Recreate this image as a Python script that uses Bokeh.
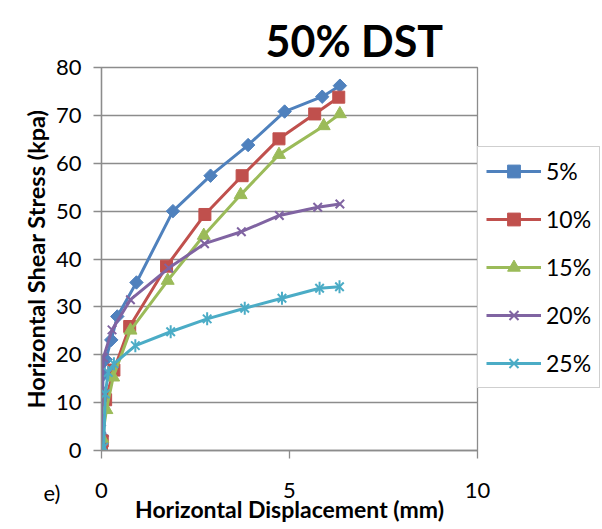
import math
from bokeh.plotting import figure
from bokeh.models import Range1d, Legend, LegendItem, Label, FixedTicker
from bokeh.embed import file_html
from bokeh.resources import INLINE

title_text = "50% DST"
x_label = "Horizontal Displacement (mm)"
y_label = "Horizontal Shear Stress (kpa)"
panel_tag = "e)"
x_ticks = [0, 5, 10]
y_ticks = [0, 10, 20, 30, 40, 50, 60, 70, 80]
series_names = ["5%", "10%", "15%", "20%", "25%"]

x_5 = [0, 0.01, 0.04, 0.11, 0.26, 0.42, 0.93, 1.90, 2.90, 3.90, 4.87, 5.87, 6.34]
y_5 = [0, 3.0, 15.8, 19.0, 23.1, 28.0, 35.1, 50.0, 57.4, 63.8, 70.8, 73.9, 76.2]

x_10 = [0, 0.02, 0.11, 0.33, 0.75, 1.73, 2.75, 3.74, 4.72, 5.67, 6.31]
y_10 = [0, 2.0, 10.6, 16.8, 25.9, 38.5, 49.3, 57.4, 65.1, 70.3, 73.8]

x_15 = [0, 0.02, 0.13, 0.31, 0.77, 1.76, 2.72, 3.70, 4.72, 5.91, 6.34]
y_15 = [0, 2.5, 8.5, 15.3, 25.1, 35.5, 44.9, 53.4, 61.8, 67.8, 70.3]

x_20 = [0, 0.0, 0.01, 0.05, 0.28, 0.77, 1.79, 2.74, 3.72, 4.73, 5.75, 6.34]
y_20 = [0, 4.5, 12.5, 19.4, 25.2, 31.5, 38.1, 43.2, 45.7, 49.1, 50.8, 51.5]

x_25 = [0, 0.06, 0.10, 0.18, 0.33, 0.90, 1.84, 2.81, 3.81, 4.80, 5.80, 6.33]
y_25 = [0, 0.7, 11.8, 16.3, 18.1, 21.9, 24.8, 27.5, 29.7, 31.8, 33.9, 34.2]

colors = ["#4F81BD", "#C0504D", "#9BBB59", "#8064A2", "#4BACC6"]
FONT = "Lato"
GRID = "#8C8C8C"

p = figure(frame_width=376, frame_height=383, output_backend="svg", toolbar_location=None,
           title=title_text,
           x_range=Range1d(0, 10), y_range=Range1d(0, 80),
           min_border_left=101, min_border_right=125,
           min_border_top=67, min_border_bottom=79)
p.background_fill_color = "white"
p.border_fill_color = "white"
p.outline_line_color = GRID
p.outline_line_width = 1.3

p.title.align = "left"
p.title.offset = 164
p.title.standoff = 4
p.title.text_font = FONT
p.title.text_font_style = "bold"
p.title.text_font_size = "43px"
p.title.text_color = "black"

p.xgrid.visible = False
p.ygrid.ticker = FixedTicker(ticks=y_ticks)
p.ygrid.grid_line_color = GRID
p.ygrid.grid_line_width = 1.3

p.xaxis.ticker = FixedTicker(ticks=x_ticks)
p.yaxis.ticker = FixedTicker(ticks=y_ticks)
for ax in (p.xaxis, p.yaxis):
    ax.axis_line_color = GRID
    ax.axis_line_width = 1.3
    ax.major_tick_line_color = GRID
    ax.major_tick_line_width = 1.3
    ax.major_tick_in = 0
    ax.major_tick_out = 8
    ax.minor_tick_line_color = None
    ax.major_label_text_font = FONT
    ax.major_label_text_font_size = "22px"
    ax.major_label_text_color = "black"
    ax.axis_label_text_font = FONT
    ax.axis_label_text_font_style = "bold"
    ax.axis_label_text_color = "black"

p.xaxis.major_label_standoff = 24
p.xaxis.axis_label = x_label
p.xaxis.axis_label_text_font_size = "23px"
p.xaxis.axis_label_standoff = -6
p.yaxis.major_label_standoff = 12
p.yaxis.axis_label = y_label
p.yaxis.axis_label_text_font_size = "23.5px"
p.yaxis.axis_label_standoff = 3

xs = [x_5, x_10, x_15, x_20, x_25]
ys = [y_5, y_10, y_15, y_20, y_25]
items = []
for i, name in enumerate(series_names):
    c = colors[i]
    ln = p.line(xs[i], ys[i], line_color=c, line_width=3)
    rs = [ln]
    if i == 0:
        rs.append(p.scatter(xs[i], ys[i], marker="square", angle=math.pi / 4,
                            size=9.5, fill_color=c, line_color=c))
    elif i == 1:
        rs.append(p.scatter(xs[i], ys[i], marker="square", size=12,
                            fill_color=c, line_color=c))
    elif i == 2:
        rs.append(p.scatter(xs[i], ys[i], marker="triangle", size=13,
                            fill_color=c, line_color=c))
    elif i == 3:
        rs.append(p.scatter(xs[i], ys[i], marker="x", size=12,
                            line_color=c, line_width=2))
    else:
        rs.append(p.scatter(xs[i], ys[i], marker="x", size=12,
                            line_color=c, line_width=2))
        rs.append(p.scatter(xs[i], ys[i], marker="dash", angle=math.pi / 2, size=13,
                            line_color=c, line_width=2))
    items.append(LegendItem(label=name, renderers=rs))

legend = Legend(items=items, location=(0, 62),
                glyph_width=55, glyph_height=32, label_height=32,
                spacing=16, padding=8, margin=0, label_standoff=5,
                label_text_font=FONT, label_text_font_size="23px",
                label_text_color="black",
                border_line_color="#A0A0A0", border_line_width=1.5,
                background_fill_color="white", background_fill_alpha=1.0)
p.add_layout(legend, "right")

p.add_layout(Label(x=42, y=-42, x_units="screen", y_units="screen",
                   text=panel_tag, text_font=FONT,
                   text_font_size="22px", text_align="left",
                   text_baseline="alphabetic", text_color="black"), "left")

open("out.html", "w").write(file_html(p, INLINE))
